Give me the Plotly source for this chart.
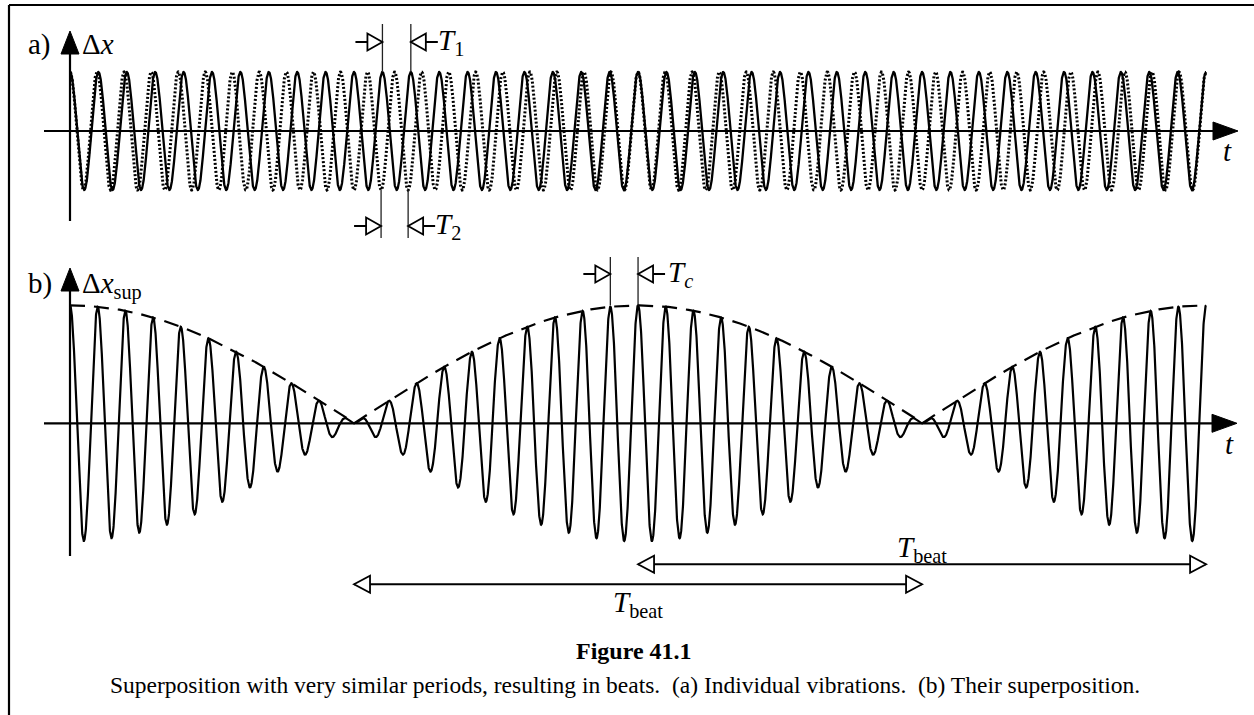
import numpy as np
import plotly.graph_objects as go

# ---- vibration data -------------------------------------------------------
periods = [1.05, 1.00]        # T1 (solid curve), T2 (dotted curve), arbitrary time unit
amplitudes = [1.0, 1.0]       # amplitude of each single vibration
t_span = [0.0, 42.0]          # time interval that is drawn
t1_marks = [11, 12]           # crests of vibration 1 used for the T1 dimension
t2_marks = [11.5, 12.5]       # troughs of vibration 2 used for the T2 dimension

T1, T2 = periods
A1, A2 = amplitudes
f1, f2 = 1.0 / T1, 1.0 / T2
T_beat = 1.0 / abs(f2 - f1)
T_c = 2.0 / (f1 + f2)

t = np.linspace(t_span[0], t_span[1], 8001)
x1 = A1 * np.cos(2 * np.pi * t / T1)
x2 = A2 * np.cos(2 * np.pi * t / T2)
x_sup = x1 + x2
envelope = np.abs((A1 + A2) * np.cos(np.pi * (f2 - f1) * t))

# ---- page geometry ----------------------------------------------------------
W, H = 1254, 715
PX_T = 27.05          # pixels per time unit
T0 = 70.0             # pixel column of t = 0
PX_A = 59.0           # pixels per amplitude unit
ROW_A, ROW_B = 131.0, 423.3   # pixel rows of the two time axes

def tx(px):
    return (px - T0) / PX_T

def ya(px):
    return (ROW_A - px) / PX_A

def yb(px):
    return (ROW_B - px) / PX_A

FONT = "Liberation Serif, Times New Roman, serif"
INK = "black"

fig = go.Figure()
fig.add_trace(go.Scatter(x=t, y=x1, mode="lines", line=dict(color=INK, width=2.3),
                         yaxis="y", hoverinfo="skip"))
fig.add_trace(go.Scatter(x=t, y=x2, mode="lines", line=dict(color=INK, width=3.0, dash="2px,2px"),
                         yaxis="y", hoverinfo="skip"))
fig.add_trace(go.Scatter(x=t, y=x_sup, mode="lines", line=dict(color=INK, width=2.2),
                         yaxis="y2", hoverinfo="skip"))
fig.add_trace(go.Scatter(x=t, y=envelope, mode="lines", line=dict(color=INK, width=2.2, dash="15px,9px"),
                         yaxis="y2", hoverinfo="skip"))

shapes = []
annos = []

def seg(xa, ya_, xb, yb_, yref, width=2.0, color=INK):
    shapes.append(dict(type="line", xref="x", yref=yref, x0=xa, y0=ya_, x1=xb, y1=yb_,
                       line=dict(color=color, width=width)))

def pix_path(x, y, yref, path, fill, width=1.8):
    shapes.append(dict(type="path", xref="x", yref=yref, xsizemode="pixel", ysizemode="pixel",
                       xanchor=x, yanchor=y, path=path, fillcolor=fill,
                       line=dict(color=INK, width=width)))

# filled axis arrow heads
HEAD_R = "M0,0 L-25,9 L-25,-9 Z"
HEAD_U = "M0,0 L-9,-23 L9,-23 Z"
# open dimension triangles (tip at anchor) with short tails
OPEN_R = "M-27,0 L-15,0 M0,0 L-15,8.5 L-15,-8.5 Z"
OPEN_L = "M27,0 L15,0 M0,0 L15,8.5 L15,-8.5 Z"
TRI_R = "M0,0 L-16,8.5 L-16,-8.5 Z"
TRI_L = "M0,0 L16,8.5 L16,-8.5 Z"

# axes of panel (a)
seg(tx(44), 0, tx(1214), 0, "y", 2.2)
pix_path(tx(1238), 0, "y", HEAD_R, INK, 1)
seg(0, ya(221), 0, ya(54), "y", 2.2)
pix_path(0, ya(31), "y", HEAD_U, INK, 1)
# axes of panel (b)
seg(tx(44), 0, tx(1213), 0, "y2", 2.2)
pix_path(tx(1237), 0, "y2", HEAD_R, INK, 1)
seg(0, yb(556), 0, yb(291), "y2", 2.2)
pix_path(0, yb(268), "y2", HEAD_U, INK, 1)

# T1 dimension (crests of the solid vibration)
xa1, xb1 = t1_marks[0] * T1, t1_marks[1] * T1
for xv in (xa1, xb1):
    seg(xv, A1, xv, ya(24), "y", 1.3, "#222")
pix_path(xa1, ya(42), "y", OPEN_R, "white")
pix_path(xb1, ya(42), "y", OPEN_L, "white")

# T2 dimension (troughs of the dotted vibration)
xa2, xb2 = t2_marks[0] * T2, t2_marks[1] * T2
for xv in (xa2, xb2):
    seg(xv, -A2, xv, ya(238), "y", 1.3, "#222")
pix_path(xa2, ya(226), "y", OPEN_R, "white")
pix_path(xb2, ya(226), "y", OPEN_L, "white")

# Tc dimension (two crests of the superposition at the beat maximum)
xac, xbc = T_beat - T_c, T_beat
for xv in (xac, xbc):
    seg(xv, A1 + A2, xv, yb(257), "y2", 1.3, "#222")
pix_path(xac, yb(274), "y2", OPEN_R, "white")
pix_path(xbc, yb(274), "y2", OPEN_L, "white")

# beat period arrows
for (xs, xe, row) in ((T_beat / 2, 1.5 * T_beat, 584.3), (T_beat, 2 * T_beat, 564.3)):
    seg(xs, yb(row), xe, yb(row), "y2", 2.0)
    pix_path(xs, yb(row), "y2", TRI_L, "white")
    pix_path(xe, yb(row), "y2", TRI_R, "white")

# frame
shapes.append(dict(type="line", xref="paper", yref="paper", x0=9 / W, y0=1 - 5 / H, x1=1.0, y1=1 - 5 / H,
                   line=dict(color=INK, width=2.2)))
shapes.append(dict(type="line", xref="paper", yref="paper", x0=9 / W, y0=1 - 5 / H, x1=9 / W, y1=0,
                   line=dict(color=INK, width=2.2)))

LBL = 29

def label(text, x, y, yref, size=LBL, xanchor="left", xshift=0):
    annos.append(dict(text=text, x=x, y=y, xref="x", yref=yref, showarrow=False,
                      xanchor=xanchor, yanchor="middle", xshift=xshift,
                      font=dict(family=FONT, size=size, color=INK)))

label("a)", tx(26), ya(44), "y")
label("Δ<i>x</i>", tx(80), ya(44), "y")
label("<i>t</i>", tx(1221), ya(151), "y")
label("b)", tx(26), yb(283), "y2")
label("Δ<i>x</i><sub>sup</sub>", tx(80), yb(285), "y2")
label("<i>t</i>", tx(1223), yb(444), "y2")
label("<i>T</i><sub>1</sub>", xb1, ya(42), "y", xshift=25)
label("<i>T</i><sub>2</sub>", xb2, ya(226), "y", xshift=25)
label("<i>T</i><sub><i>c</i></sub>", xbc, yb(274), "y2", xshift=28)
label("<i>T</i><sub>beat</sub>", T_beat, yb(604), "y2", xanchor="center")
label("<i>T</i><sub>beat</sub>", 1.5 * T_beat, yb(549), "y2", xanchor="center")

annos.append(dict(text="<b>Figure 41.1</b>", x=634 / W, y=1 - 651 / H, xref="paper", yref="paper",
                  showarrow=False, xanchor="center", yanchor="middle",
                  font=dict(family=FONT, size=24, color=INK)))
annos.append(dict(text="Superposition with very similar periods, resulting in beats.\u00a0 (a) Individual vibrations.\u00a0 (b) Their superposition.",
                  x=625 / W, y=1 - 685 / H, xref="paper", yref="paper",
                  showarrow=False, xanchor="center", yanchor="middle",
                  font=dict(family=FONT, size=23.5, color=INK)))

hidden = dict(showgrid=False, zeroline=False, showticklabels=False, showline=False, ticks="",
              fixedrange=True)
fig.update_layout(
    width=W, height=H,
    margin=dict(l=0, r=0, t=0, b=0),
    paper_bgcolor="white", plot_bgcolor="white",
    showlegend=False,
    xaxis=dict(range=[tx(0), tx(W)], domain=[0, 1], **hidden),
    yaxis=dict(range=[ya(H), ya(0)], domain=[0, 1], **hidden),
    yaxis2=dict(range=[yb(H), yb(0)], domain=[0, 1], overlaying="y", **hidden),
    shapes=shapes,
    annotations=annos,
)

fig.write_html("out.html", config={"displayModeBar": False})
